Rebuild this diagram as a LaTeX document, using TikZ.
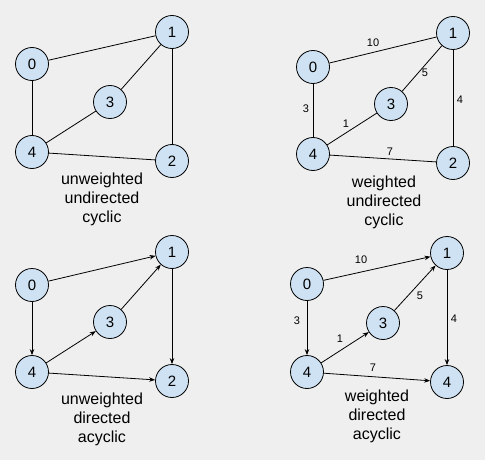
\documentclass[tikz,border=0pt]{standalone}
\usepackage{fontspec}
\setmainfont{Liberation Sans}
\usetikzlibrary{arrows.meta}
\definecolor{nodeblue}{HTML}{CFE2F3}
\definecolor{bggray}{HTML}{EFEFEF}
\tikzset{
  vtx/.style={circle, draw, fill=nodeblue, minimum size=33pt, inner sep=0pt,
    font=\fontsize{15}{15}\selectfont},
  wt/.style={font=\fontsize{11}{11}\selectfont, inner sep=1pt},
  caption/.style={align=center, font=\fontsize{16}{19}\selectfont},
  arc/.style={-{Stealth[length=6pt,width=4.5pt]}}
}
\begin{document}
\begin{tikzpicture}[x=1pt,y=-1pt,line width=0.8pt]
      \fill [bggray] (0,0) rectangle (485,460);
      % unweighted undirected cyclic
      \node [vtx] (a0) at (32,64) {0};
      \node [vtx] (a1) at (172,32) {1};
      \node [vtx] (a3) at (110,102) {3};
      \node [vtx] (a4) at (32,152) {4};
      \node [vtx] (a2) at (172,161) {2};
      \draw (a0) -- (a1);
      \draw (a0) -- (a4);
      \draw (a1) -- (a3);
      \draw (a1) -- (a2);
      \draw (a3) -- (a4);
      \draw (a4) -- (a2);
      \node [caption] (acap) at (102,199) {unweighted\\undirected\\cyclic};
      % weighted undirected cyclic
      \node [vtx] (b0) at (313,67) {0};
      \node [vtx] (b1) at (453,33) {1};
      \node [vtx] (b3) at (391,104) {3};
      \node [vtx] (b4) at (313,154) {4};
      \node [vtx] (b2) at (453,163) {2};
      \draw (b0) -- (b1);
      \draw (b0) -- (b4);
      \draw (b1) -- (b3);
      \draw (b1) -- (b2);
      \draw (b3) -- (b4);
      \draw (b4) -- (b2);
      \node [wt] (bw01) at (373,43) {10};
      \node [wt] (bw13) at (425,73) {5};
      \node [wt] (bw12) at (460,100) {4};
      \node [wt] (bw04) at (306,109) {3};
      \node [wt] (bw34) at (346,124) {1};
      \node [wt] (bw42) at (390,152) {7};
      \node [caption] (bcap) at (384,202) {weighted\\undirected\\cyclic};
      % unweighted directed acyclic
      \node [vtx] (c0) at (32,285) {0};
      \node [vtx] (c1) at (172,252) {1};
      \node [vtx] (c3) at (110,322) {3};
      \node [vtx] (c4) at (32,372) {4};
      \node [vtx] (c2) at (172,381) {2};
      \draw [arc] (c0) -- (c1);
      \draw [arc] (c0) -- (c4);
      \draw [arc] (c3) -- (c1);
      \draw [arc] (c1) -- (c2);
      \draw [arc] (c4) -- (c3);
      \draw [arc] (c4) -- (c2);
      \node [caption] (ccap) at (102,419) {unweighted\\directed\\acyclic};
      % weighted directed acyclic
      \node [vtx] (d0) at (307,284) {0};
      \node [vtx] (d1) at (447,253) {1};
      \node [vtx] (d3) at (383,323) {3};
      \node [vtx] (d4) at (307,372) {4};
      \node [vtx] (d2) at (447,382) {4};
      \draw [arc] (d0) -- (d1);
      \draw [arc] (d0) -- (d4);
      \draw [arc] (d3) -- (d1);
      \draw [arc] (d1) -- (d2);
      \draw [arc] (d4) -- (d3);
      \draw [arc] (d4) -- (d2);
      \node [wt] (dw01) at (361,260) {10};
      \node [wt] (dw31) at (420,296) {5};
      \node [wt] (dw12) at (454,319) {4};
      \node [wt] (dw04) at (297,321) {3};
      \node [wt] (dw43) at (340,339) {1};
      \node [wt] (dw42) at (373,368) {7};
      \node [caption] (dcap) at (377,416) {weighted\\directed\\acyclic};
\end{tikzpicture}
\end{document}
